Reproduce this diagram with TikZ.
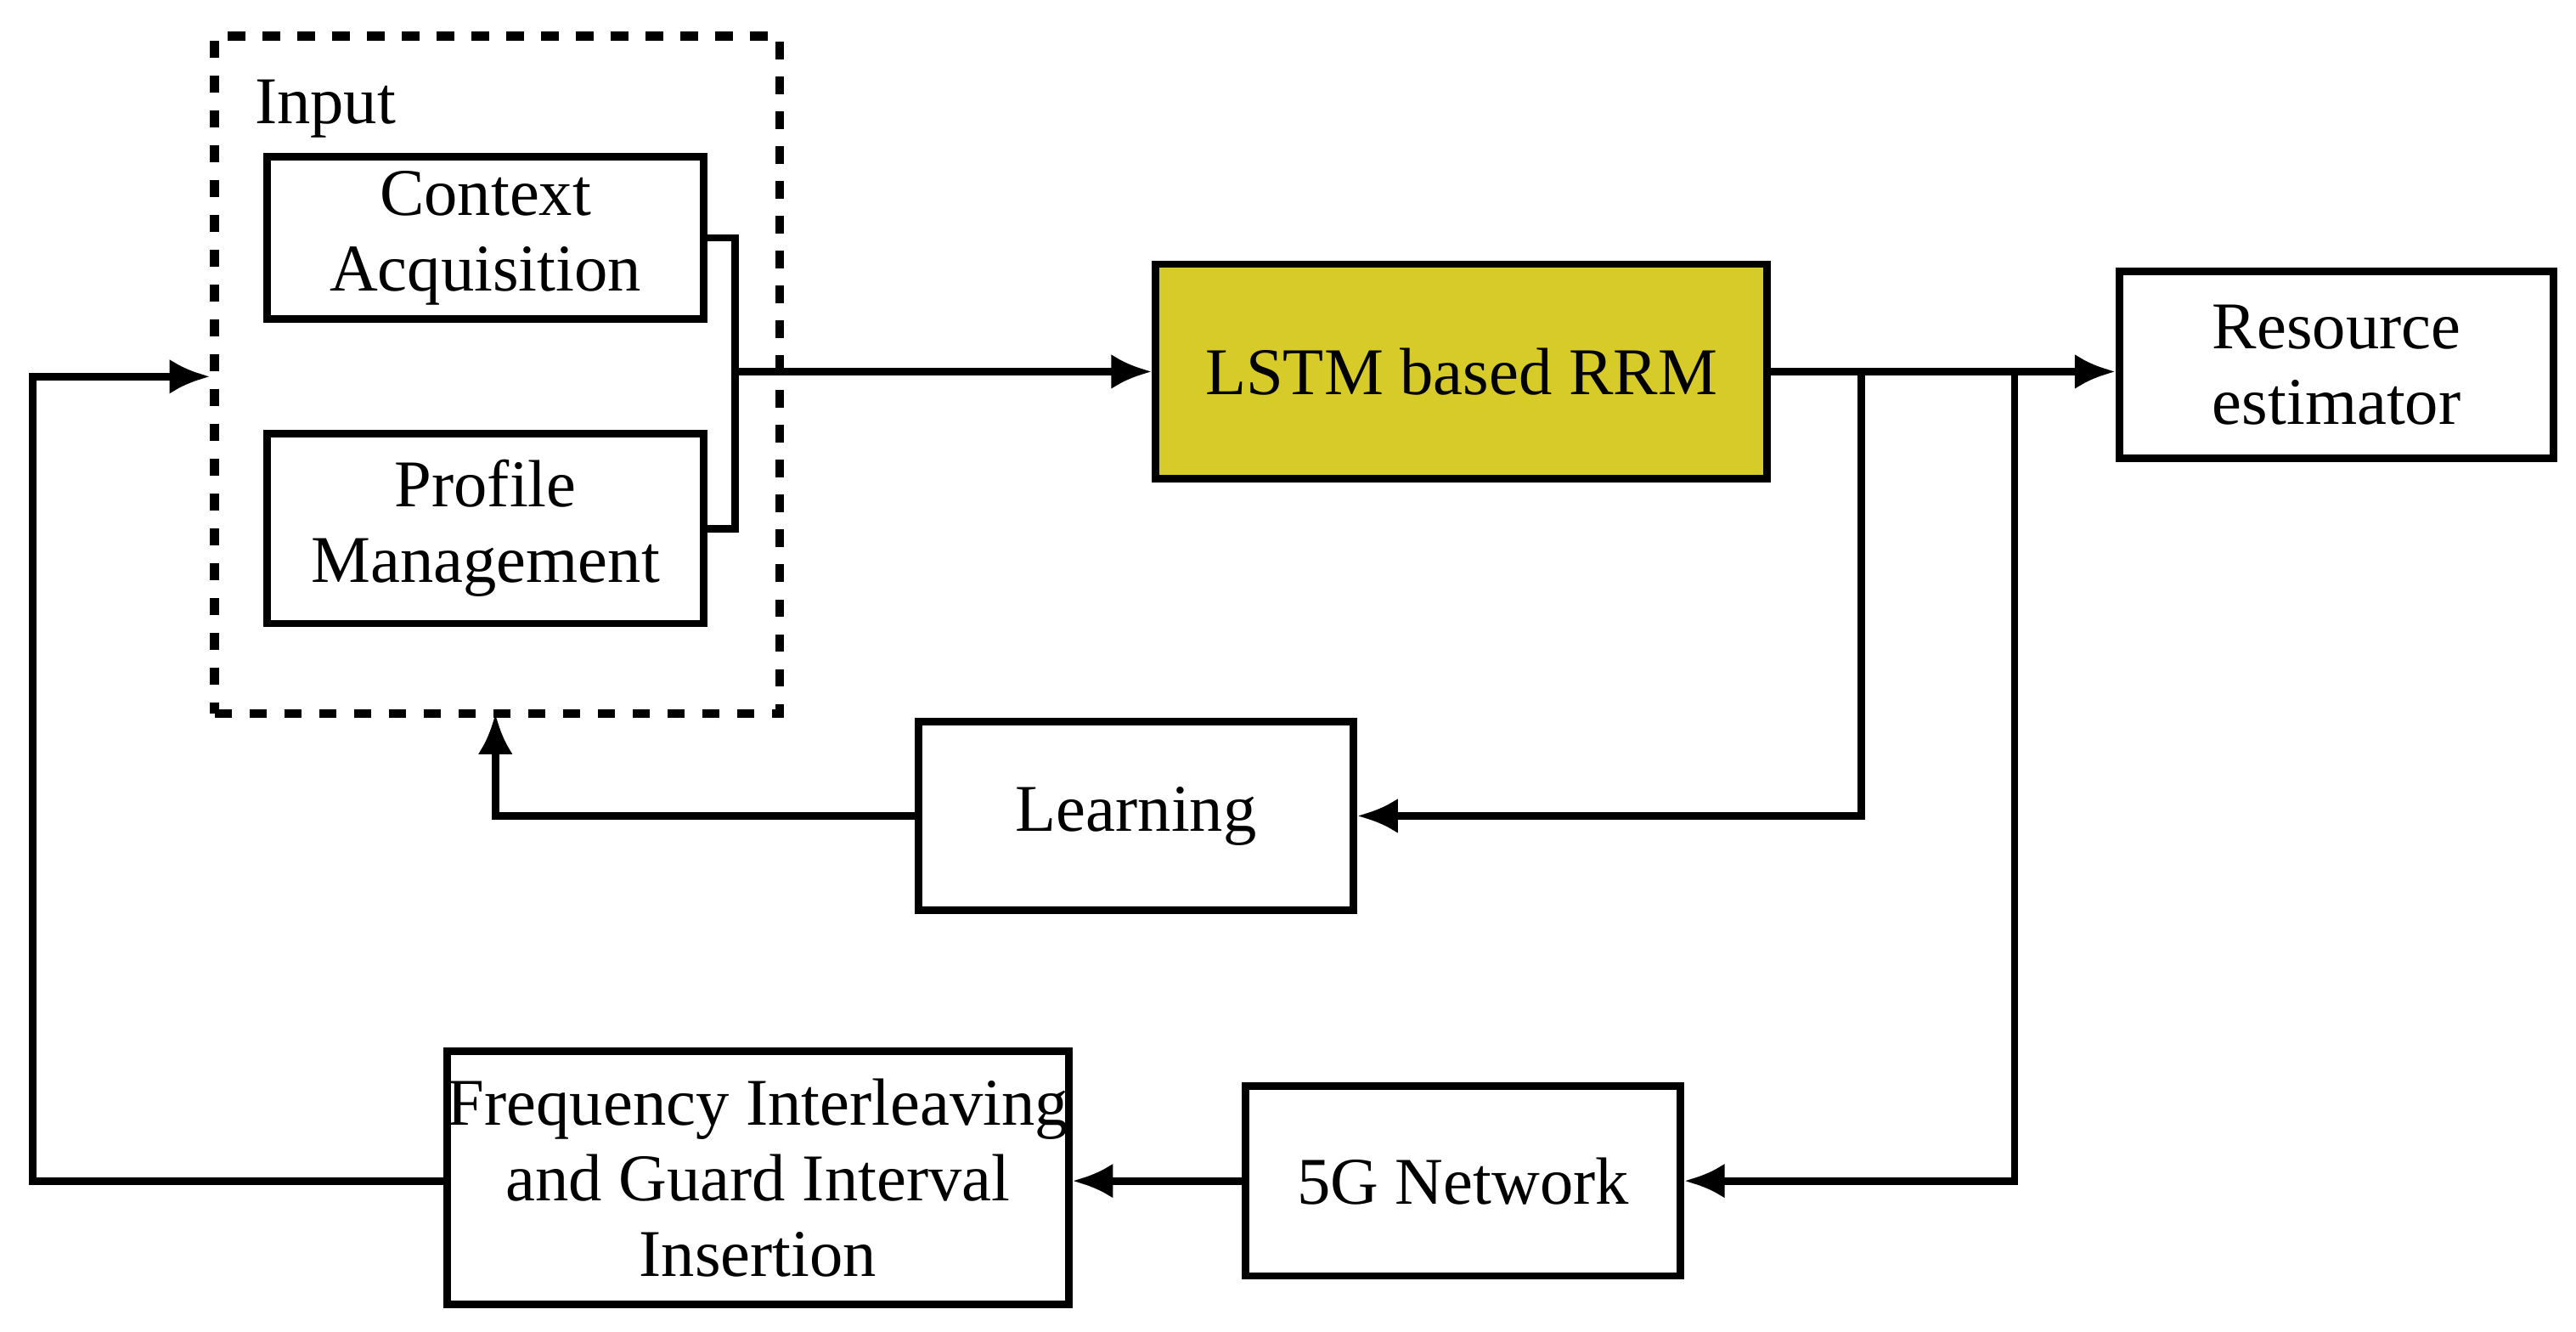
\documentclass[tikz,border=0pt]{standalone}
\usepackage{fontspec}
\setmainfont{Liberation Serif}
\usetikzlibrary{arrows.meta}
\definecolor{lstm}{RGB}{214,203,40}
\begin{document}
\begin{tikzpicture}[x=0.01cm,y=-0.01cm,
 box/.style={draw,line width=1.3pt,align=center,font=\fontsize{11.5}{13}\selectfont,inner sep=0},
 ln/.style={line width=1.3pt},
 ar/.style={line width=1.3pt,-{Latex[length=7pt,width=6pt]}}]
\useasboundingbox (0,0) rectangle (1560,806);
\node[draw,dashed,line width=1.5pt,minimum width=342\pgflinewidth,inner sep=0] (in) at (301,227) [minimum width=3.42cm,minimum height=4.1cm] {};
\node[font=\fontsize{11.5}{13}\selectfont] (inl) at (197,66) {Input};
\node[box,minimum width=2.64cm,minimum height=0.98cm] (ca) at (294,144) {Context\\Acquisition};
\node[box,minimum width=2.64cm,minimum height=1.15cm] (pm) at (294,320) {Profile\\Management};
\coordinate (b1) at (445,144);
\coordinate (b2) at (445,320);
\coordinate (bm) at (445,225);
\node[box,fill=lstm,minimum width=3.7cm,minimum height=1.3cm] (lstm) at (885,225) {LSTM based RRM};
\node[box,minimum width=2.63cm,minimum height=1.13cm] (re) at (1415,221) {Resource\\estimator};
\node[box,minimum width=2.63cm,minimum height=1.14cm] (le) at (688,494) {Learning};
\node[box,minimum width=2.63cm,minimum height=1.15cm] (g5) at (886,715) {5G Network};
\node[box,minimum width=3.53cm,minimum height=1.53cm] (fi) at (459,713) {Frequency Interleaving\\and Guard Interval\\Insertion};
\coordinate (j1) at (1127,225);
\coordinate (j2) at (1220,225);
\draw[ln] (ca.east) -- (b1) -- (b2) -- (pm.east);
\draw[ar] (bm) -- (lstm.west);
\draw[ar] (lstm.east) -- (re.west |- lstm.east);
\draw[ar] (j1) |- (le.east);
\draw[ar] (le.west) -| (300,432);
\draw[ar] (j2) |- (g5.east);
\draw[ar] (g5.west) -- (fi.east |- g5.west);
\draw[ar] (fi.west |- g5.west) -| (20,228) -- (in.west |- 0,228);
\end{tikzpicture}
\end{document}
